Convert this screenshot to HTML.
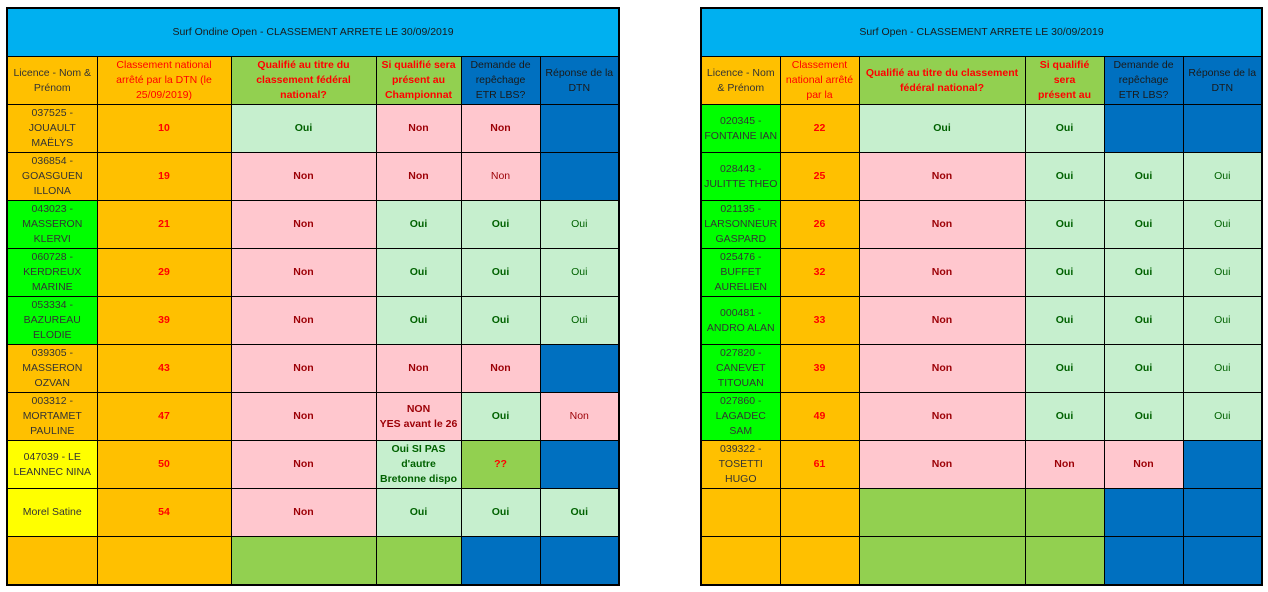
<!DOCTYPE html>
<html><head><meta charset="utf-8"><style>
html,body{margin:0;padding:0;background:#fff;width:1268px;height:592px;overflow:hidden}
table{position:absolute;border-collapse:collapse;table-layout:fixed;border:2px solid #000;font-family:"Liberation Sans",sans-serif;font-size:10.5px}
td{border:1px solid #000;text-align:center;vertical-align:middle;padding:0 1px;line-height:15px;height:47px;overflow:hidden;color:#333}
.t{background:#00B0F0;color:#1a1a1a;font-weight:normal}
.o{background:#FFC000}.g{background:#92D050}.b{background:#0070C0}.lg{background:#00FF00}.y{background:#FFFF00}
.ok{background:#C6EFCE;color:#006100}.no{background:#FFC7CE;color:#9C0006}
.r{color:#FF0000}.bd{font-weight:bold}
.p12{padding:0 12px}.p8{padding:0 8px}.p6{padding:0 6px}
.b{color:#1a1a1a}
</style></head><body>
<table style="left:6px;top:7px;width:614px">
<colgroup><col style="width:90px"><col style="width:134px"><col style="width:145px"><col style="width:85px"><col style="width:79px"><col style="width:79px"></colgroup>
<tr><td class="t" colspan="6">Surf Ondine Open - CLASSEMENT ARRETE LE 30/09/2019</td></tr>
<tr><td class="o">Licence - Nom &amp; Prénom</td><td class="o r p12">Classement national arrêté par la DTN (le 25/09/2019)</td><td class="g r bd">Qualifié au titre du classement fédéral national?</td><td class="g r bd">Si qualifié sera présent au Championnat</td><td class="b p6">Demande de repêchage ETR LBS?</td><td class="b">Réponse de la DTN</td></tr>
<tr><td class="o">037525 - JOUAULT MAËLYS</td><td class="o r bd">10</td><td class="ok bd">Oui</td><td class="no bd">Non</td><td class="no bd">Non</td><td class="b"></td></tr>
<tr><td class="o">036854 - GOASGUEN ILLONA</td><td class="o r bd">19</td><td class="no bd">Non</td><td class="no bd">Non</td><td class="no">Non</td><td class="b"></td></tr>
<tr><td class="lg">043023 - MASSERON KLERVI</td><td class="o r bd">21</td><td class="no bd">Non</td><td class="ok bd">Oui</td><td class="ok bd">Oui</td><td class="ok">Oui</td></tr>
<tr><td class="lg">060728 - KERDREUX MARINE</td><td class="o r bd">29</td><td class="no bd">Non</td><td class="ok bd">Oui</td><td class="ok bd">Oui</td><td class="ok">Oui</td></tr>
<tr><td class="lg">053334 - BAZUREAU ELODIE</td><td class="o r bd">39</td><td class="no bd">Non</td><td class="ok bd">Oui</td><td class="ok bd">Oui</td><td class="ok">Oui</td></tr>
<tr><td class="o">039305 - MASSERON OZVAN</td><td class="o r bd">43</td><td class="no bd">Non</td><td class="no bd">Non</td><td class="no bd">Non</td><td class="b"></td></tr>
<tr><td class="o">003312 - MORTAMET PAULINE</td><td class="o r bd">47</td><td class="no bd">Non</td><td class="no bd">NON<br>YES avant le 26</td><td class="ok bd">Oui</td><td class="no">Non</td></tr>
<tr><td class="y">047039 - LE LEANNEC NINA</td><td class="o r bd">50</td><td class="no bd">Non</td><td class="ok bd">Oui SI PAS d'autre Bretonne dispo</td><td class="g r bd">??</td><td class="b"></td></tr>
<tr><td class="y">Morel Satine</td><td class="o r bd">54</td><td class="no bd">Non</td><td class="ok bd">Oui</td><td class="ok bd">Oui</td><td class="ok bd">Oui</td></tr>
<tr><td class="o"></td><td class="o"></td><td class="g"></td><td class="g"></td><td class="b"></td><td class="b"></td></tr>
</table>
<table style="left:700px;top:7px;width:563px">
<colgroup><col style="width:79px"><col style="width:79px"><col style="width:166px"><col style="width:79px"><col style="width:79px"><col style="width:79px"></colgroup>
<tr><td class="t" colspan="6">Surf Open - CLASSEMENT ARRETE LE 30/09/2019</td></tr>
<tr><td class="o">Licence - Nom &amp; Prénom</td><td class="o r">Classement national arrêté par la</td><td class="g r bd">Qualifié au titre du classement fédéral national?</td><td class="g r bd p8">Si qualifié sera présent au</td><td class="b p6">Demande de repêchage ETR LBS?</td><td class="b">Réponse de la DTN</td></tr>
<tr><td class="lg">020345 - FONTAINE IAN</td><td class="o r bd">22</td><td class="ok bd">Oui</td><td class="ok bd">Oui</td><td class="b"></td><td class="b"></td></tr>
<tr><td class="lg">028443 - JULITTE THEO</td><td class="o r bd">25</td><td class="no bd">Non</td><td class="ok bd">Oui</td><td class="ok bd">Oui</td><td class="ok">Oui</td></tr>
<tr><td class="lg">021135 - LARSONNEUR GASPARD</td><td class="o r bd">26</td><td class="no bd">Non</td><td class="ok bd">Oui</td><td class="ok bd">Oui</td><td class="ok">Oui</td></tr>
<tr><td class="lg">025476 - BUFFET AURELIEN</td><td class="o r bd">32</td><td class="no bd">Non</td><td class="ok bd">Oui</td><td class="ok bd">Oui</td><td class="ok">Oui</td></tr>
<tr><td class="lg">000481 - ANDRO ALAN</td><td class="o r bd">33</td><td class="no bd">Non</td><td class="ok bd">Oui</td><td class="ok bd">Oui</td><td class="ok">Oui</td></tr>
<tr><td class="lg">027820 - CANEVET TITOUAN</td><td class="o r bd">39</td><td class="no bd">Non</td><td class="ok bd">Oui</td><td class="ok bd">Oui</td><td class="ok">Oui</td></tr>
<tr><td class="lg">027860 - LAGADEC SAM</td><td class="o r bd">49</td><td class="no bd">Non</td><td class="ok bd">Oui</td><td class="ok bd">Oui</td><td class="ok">Oui</td></tr>
<tr><td class="o">039322 - TOSETTI HUGO</td><td class="o r bd">61</td><td class="no bd">Non</td><td class="no bd">Non</td><td class="no bd">Non</td><td class="b"></td></tr>
<tr><td class="o"></td><td class="o"></td><td class="g"></td><td class="g"></td><td class="b"></td><td class="b"></td></tr>
<tr><td class="o"></td><td class="o"></td><td class="g"></td><td class="g"></td><td class="b"></td><td class="b"></td></tr>
</table>
</body></html>
